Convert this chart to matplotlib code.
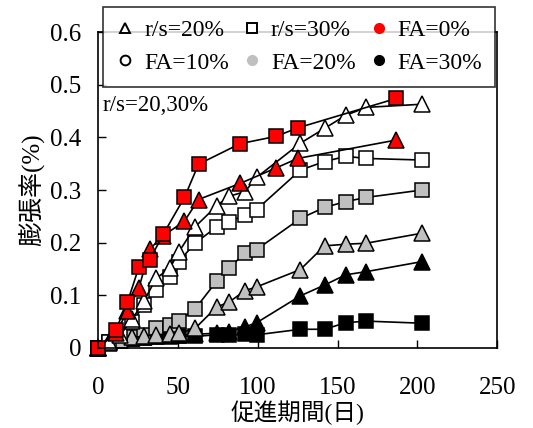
import matplotlib
matplotlib.use('Agg')
import matplotlib.pyplot as plt
from matplotlib.lines import Line2D

plt.rcParams['font.family'] = ['Liberation Serif', 'Noto Sans CJK JP']

# 促進日数 (FA=0% は別の測定日)
days_fa0 = [0, 11.1, 18.4, 25.5, 32.4, 40.8, 54.1, 62.9, 88.9, 111.5, 125, 186.8]
days = [0, 7, 14, 21.5, 28.9, 36.3, 45, 50.5, 60.7, 74.3, 82, 92, 99.3, 126.7, 141.8, 155.1, 168, 202.8]

# r/s=30% (四角)
sq_fa0 = [0, 0.034, 0.087, 0.153, 0.168, 0.216, 0.286, 0.349, 0.388, 0.402, 0.418, 0.474]
sq_fa10 = [0, 0.012, 0.025, 0.05, 0.082, 0.11, 0.134, 0.164, 0.199, 0.23, 0.24, 0.252, 0.263,
           0.338, 0.354, 0.364, 0.36, 0.357]
sq_fa20 = [0, 0.01, 0.015, 0.02, 0.025, 0.0385, 0.044, 0.052, 0.074, 0.127, 0.152, 0.18, 0.187,
           0.246, 0.267, 0.278, 0.286, 0.30]
sq_fa30 = [0, 0.012, 0.015, 0.017, 0.019, 0.02, 0.021, 0.022, 0.022, 0.025, 0.025, 0.026, 0.025,
           0.0355, 0.0355, 0.048, 0.051, 0.047]

# r/s=20% (三角)
tri_fa0 = [0, 0.028, 0.07, 0.113, 0.188, 0.213, 0.241, 0.282, 0.3125, 0.342, 0.36, 0.395]
tri_fa10 = [0, 0.012, 0.025, 0.055, 0.09, 0.132, 0.152, 0.182, 0.23, 0.27, 0.288, 0.297, 0.324,
            0.389, 0.417, 0.442, 0.457, 0.463]
tri_fa20 = [0, 0.01, 0.015, 0.02, 0.022, 0.025, 0.027, 0.028, 0.037, 0.078, 0.087, 0.109, 0.116,
            0.149, 0.194, 0.197, 0.199, 0.218]
tri_fa30 = [0, 0.012, 0.015, 0.018, 0.02, 0.022, 0.024, 0.024, 0.026, 0.028, 0.031, 0.040, 0.048,
            0.099, 0.1195, 0.139, 0.145, 0.164]

gray = '#c0c0c0'

fig = plt.figure(figsize=(5.33, 4.28), dpi=100)
ax = fig.add_axes([0.184, 0.187, 0.749, 0.738])

def curve(x, y, marker, color, ms):
    ax.plot(x, y, '-', color='black', lw=1.2, marker=marker, ms=ms,
            mfc=color, mec='black', mew=1.1, clip_on=False)

curve(days, sq_fa30, 's', 'black', 10)
curve(days, tri_fa30, '^', 'black', 11)
curve(days, sq_fa20, 's', gray, 10)
curve(days, tri_fa20, '^', gray, 11)
curve(days, sq_fa10, 's', 'white', 10)
curve(days, tri_fa10, '^', 'white', 11)
curve(days_fa0, tri_fa0, '^', 'red', 11)
curve(days_fa0, sq_fa0, 's', 'red', 10)

ax.set_xlim(0, 250)
ax.set_ylim(0, 0.6)
ax.set_xticks([0, 50, 100, 150, 200, 250])
ax.set_yticks([0, 0.1, 0.2, 0.3, 0.4, 0.5, 0.6])
ax.set_yticklabels(['0', '0.1', '0.2', '0.3', '0.4', '0.5', '0.6'])
ax.tick_params(direction='in', length=6, width=1, labelsize=18)
ax.tick_params(axis='x', pad=21)
ax.tick_params(axis='y', pad=12)
for s in ax.spines.values():
    s.set_linewidth(1.2)

ax.set_xlabel('促進期間(日)', fontsize=17, labelpad=1)
ax.set_ylabel('膨張率(%)', fontsize=18, labelpad=4)

ax.text(3, 0.461, 'r/s=20,30%', fontsize=16.5, va='center', ha='left')

handles = [
    Line2D([], [], ls='', marker='^', ms=7, mfc='white', mec='black', mew=1.4),
    Line2D([], [], ls='', marker='o', ms=7, mfc='white', mec='black', mew=1.4),
    Line2D([], [], ls='', marker='s', ms=7, mfc='white', mec='black', mew=1.4),
    Line2D([], [], ls='', marker='o', ms=7, mfc=gray, mec=gray),
    Line2D([], [], ls='', marker='o', ms=7, mfc='red', mec='red'),
    Line2D([], [], ls='', marker='o', ms=7, mfc='black', mec='black'),
]
labels = ['r/s=20%', 'FA=10%', 'r/s=30%', 'FA=20%', 'FA=0%', 'FA=30%']
leg = fig.legend(handles, labels, ncol=3, loc='upper left', mode='expand',
                 bbox_to_anchor=(0.193, 0.801, 0.736, 0.183),
                 bbox_transform=fig.transFigure, fontsize=17, frameon=True,
                 fancybox=False, edgecolor='black', handlelength=0.8,
                 handletextpad=0.4, columnspacing=0.6, borderaxespad=0,
                 borderpad=0.55, labelspacing=0.45)
leg.get_frame().set_linewidth(1.2)

fig.savefig('out.png', dpi=100)
